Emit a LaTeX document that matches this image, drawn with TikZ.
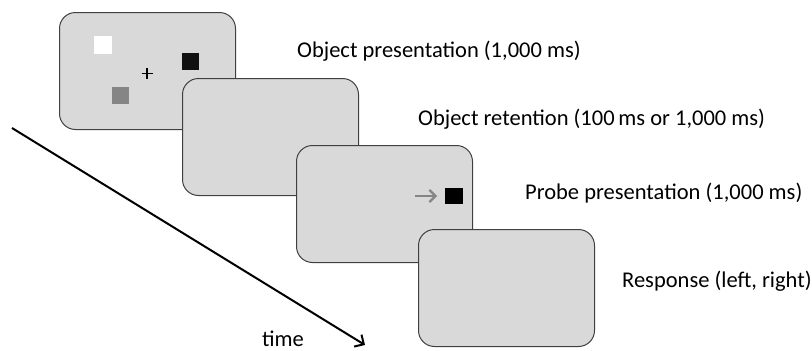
\documentclass[tikz,border=0pt]{standalone}
\usepackage{fontspec}
\setmainfont{Carlito}
\usetikzlibrary{arrows.meta}
\definecolor{boxfill}{HTML}{D9D9D9}
\definecolor{boxline}{HTML}{404040}
\definecolor{midgray}{HTML}{858585}
\definecolor{nearblack}{HTML}{111111}
\begin{document}
\begin{tikzpicture}[x=1pt,y=-1pt,
  screen/.style={draw=boxline, fill=boxfill, line width=1pt, rounded corners=16pt,
    minimum width=176pt, minimum height=117pt, anchor=north west, inner sep=0pt},
  lbl/.style={anchor=base west, inner sep=0pt, font=\fontsize{22.5}{26}\selectfont},
  sq/.style={minimum size=18pt, inner sep=0pt, anchor=north west, draw=none}]
\useasboundingbox (0,0) rectangle (812,351);
% screen 1: objects
\node[screen] (s1) at (59,12) {};
\node[sq, fill=white] (w) at (94,36) {};
\node[sq, fill=nearblack, minimum size=17pt] (b) at (182,53) {};
\node[sq, fill=midgray, minimum size=17pt] (g) at (112,87) {};
\coordinate (fix) at (147,73.5);
\draw[line width=1.6pt] ([xshift=-5.5pt]fix) -- ([xshift=5.5pt]fix);
\draw[line width=1.6pt] ([yshift=5.5pt]fix) -- ([yshift=-5.5pt]fix);
% screen 2: retention
\node[screen] (s2) at (182,78) {};
% screen 3: probe
\node[screen] (s3) at (296,145) {};
\coordinate (pa) at (415,196);
\coordinate (pb) at (437,196);
\draw[midgray, line width=2.2pt, -{Straight Barb[length=6pt,width=12pt]}] (pa) -- (pb);
\node[sq, fill=black, minimum width=18pt, minimum height=16pt] (p) at (445,188) {};
% screen 4: response
\node[screen] (s4) at (418,229) {};
% labels
\node[lbl] (l1) at (297,57) {Object presentation (1,000 ms)};
\node[lbl] (l2) at (418,125) {Object retention (100\,ms or 1,000 ms)};
\node[lbl] (l3) at (525,199) {Probe presentation (1,000 ms)};
\node[lbl] (l4) at (622,287) {Response (left, right)};
% time arrow
\coordinate (t0) at (12,128);
\coordinate (t1) at (365,345);
\draw[line width=2pt, -{Straight Barb[length=7pt,width=14pt]}] (t0) -- (t1);
\node[lbl] (tl) at (262,346.5) {time};
\end{tikzpicture}
\end{document}
